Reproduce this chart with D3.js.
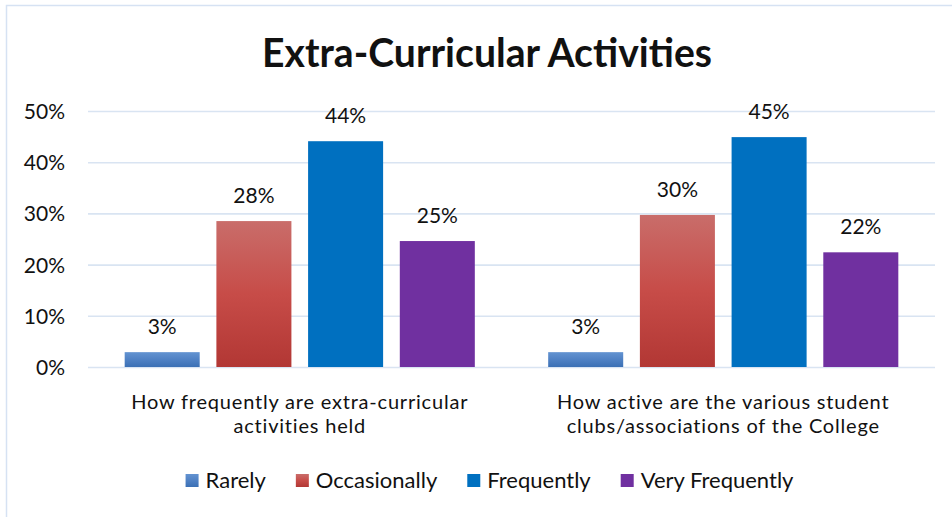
<!DOCTYPE html>
<html>
<head>
<meta charset="utf-8">
<script src="https://cdn.jsdelivr.net/npm/d3@7"></script>
<style>
  body { margin: 0; background: #fff; }
  text { font-family: Lato, "Open Sans", sans-serif; fill: #111; }
</style>
</head>
<body>
<div id="vis"></div>
<script>
// ----- DATA ----- //
const questions = [
  "How frequently are extra-curricular activities held",
  "How active are the various student clubs/associations of the College"
];
const questionLines = [
  ["How frequently are extra-curricular", "activities held"],
  ["How active are the various student", "clubs/associations of the College"]
];
const responses = ["Rarely", "Occasionally", "Frequently", "Very Frequently"];
const rarely = [0.029, 0.029];
const occasionally = [0.285, 0.297];
const frequently = [0.441, 0.449];
const veryFrequently = [0.246, 0.224];
const valueLabels = [
  ["3%", "28%", "44%", "25%"],
  ["3%", "30%", "45%", "22%"]
];
const yTicks = [0, 0.1, 0.2, 0.3, 0.4, 0.5];

const series = [rarely, occasionally, frequently, veryFrequently];
const rows = questions.map((q, i) => ({
  question: q,
  values: responses.map((r, j) => ({ key: r, value: series[j][i], label: valueLabels[i][j] }))
}));

const W = 952, H = 517;
const margin = { top: 111, right: 17, bottom: 150, left: 88 };

const svg = d3.select("#vis")
  .append("svg")
  .attr("width", W)
  .attr("height", H);

// gradients for the two shaded series
const defs = svg.append("defs");
function grad(id, stops) {
  let g = defs.append("linearGradient")
    .attr("id", id)
    .attr("x1", 0).attr("y1", 0).attr("x2", 0).attr("y2", 1);
  stops.forEach((s) => g.append("stop").attr("offset", s[0]).attr("stop-color", s[1]));
}
grad("gRarely", [[0, "#6393d1"], [0.5, "#4f81c4"], [1, "#3b70b5"]]);
grad("gOcc", [[0, "#c96d6a"], [0.5, "#c74c48"], [1, "#b23734"]]);

let color = d3.scaleOrdinal()
  .domain(responses)
  .range(["url(#gRarely)", "url(#gOcc)", "#0070c0", "#7030a0"]);

// chart border (only left and top are visible)
svg.append("rect")
  .attr("x", 6.5)
  .attr("y", 5.5)
  .attr("width", W + 20)
  .attr("height", H + 20)
  .attr("fill", "none")
  .attr("stroke", "#d6e2f3")
  .attr("stroke-width", 1.5);

// ----- SCALES ----- //
let x0 = d3.scaleBand()
  .domain(questions)
  .range([margin.left, W - margin.right])
  .padding(0);

let x1 = d3.scaleBand()
  .domain(responses)
  .range([0, x0.bandwidth()])
  .paddingInner(0.182)
  .paddingOuter(0.4);

let y = d3.scaleLinear()
  .domain([0, 0.5])
  .range([H - margin.bottom, margin.top]);

// ----- GRID + Y AXIS ----- //
let yAxis = d3.axisLeft(y)
  .tickValues(yTicks)
  .tickSize(-(W - margin.right - margin.left))
  .tickPadding(23)
  .tickFormat(d3.format(".0%"));

let yAxisGroup = svg.append("g")
  .attr("transform", `translate(${margin.left},0)`)
  .call(yAxis);
yAxisGroup.select(".domain").remove();
yAxisGroup.selectAll(".tick line")
  .attr("stroke", "#d9e4f2")
  .attr("stroke-width", 1.6);
yAxisGroup.selectAll(".tick text")
  .attr("font-size", 21)
  .attr("font-family", "Lato, sans-serif")
  .attr("fill", "#111")
  .attr("dy", "0.36em");

// ----- BARS ----- //
let groups = svg.selectAll(".grp")
  .data(rows)
  .join("g")
  .attr("class", "grp")
  .attr("transform", (d) => `translate(${x0(d.question)},0)`);

groups.selectAll("rect")
  .data((d) => d.values)
  .join("rect")
  .attr("x", (d) => x1(d.key))
  .attr("y", (d) => y(d.value))
  .attr("width", x1.bandwidth())
  .attr("height", (d) => y(0) - y(d.value))
  .attr("fill", (d) => color(d.key));

groups.selectAll(".vlabel")
  .data((d) => d.values)
  .join("text")
  .attr("class", "vlabel")
  .attr("x", (d) => x1(d.key) + x1.bandwidth() / 2)
  .attr("y", (d) => y(d.value) - 18)
  .attr("text-anchor", "middle")
  .attr("font-size", 21)
  .text((d) => d.label);

// ----- CATEGORY LABELS (two lines each) ----- //
svg.selectAll(".cat")
  .data(questions)
  .join("g")
  .attr("class", "cat")
  .each(function (d, i) {
    d3.select(this).selectAll("text")
      .data(questionLines[i])
      .join("text")
      .attr("text-anchor", "middle")
      .attr("font-size", 20)
      .attr("letter-spacing", 0.8)
      .attr("x", x0(d) + x0.bandwidth() / 2)
      .attr("y", (t, k) => 409 + k * 24)
      .text((t) => t);
  });

// ----- TITLE ----- //
let title = svg.append("text")
  .attr("x", 487)
  .attr("y", 67)
  .attr("text-anchor", "middle")
  .attr("font-size", 39.5)
  .attr("font-weight", "bold")
  .attr("fill", "#000")
  .text("Extra-Curricular Activities");
if (title.node().getComputedTextLength() > 452) {
  title.attr("textLength", 450).attr("lengthAdjust", "spacingAndGlyphs");
}

// ----- LEGEND ----- //
let legend = svg.append("g");
let cursor = 0;
responses.forEach((r) => {
  let item = legend.append("g").attr("transform", `translate(${cursor},0)`);
  item.append("rect")
    .attr("x", 0)
    .attr("y", -14)
    .attr("width", 13)
    .attr("height", 13)
    .attr("fill", color(r));
  let t = item.append("text")
    .attr("x", 20)
    .attr("y", 0)
    .attr("font-size", 22)
    .text(r);
  cursor += 20 + t.node().getComputedTextLength() + 30;
});
let legendWidth = cursor - 30;
legend.attr("transform", `translate(${489.5 - legendWidth / 2},488)`);
</script>
</body>
</html>
